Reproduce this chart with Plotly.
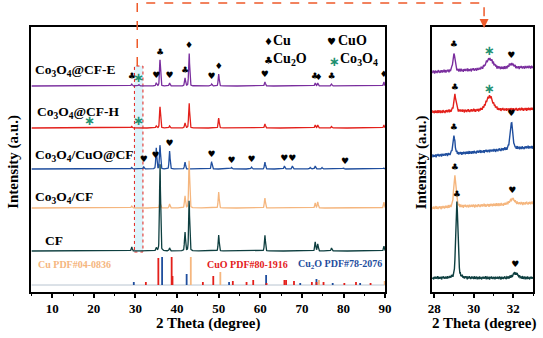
import numpy as np
import plotly.graph_objects as go

W, H = 543, 338
SERIF = "Liberation Serif"
SYM = "DejaVu Sans"

# ---------------- data: main panel peak tables (2-theta deg, intensity a.u.) ----------------
cfe_pos = [29.1, 30.8, 35.0, 35.9, 38.2, 41.9, 42.9, 48.3, 50.0, 61.1, 73.2, 73.8, 77.1, 89.7]
cfe_h   = [2, 1.5, 3, 26, 3, 8, 33, 2, 12, 4, 3, 3, 2, 4]
cfh_pos = [29.1, 35.0, 35.9, 38.2, 41.9, 42.9, 50.0, 61.1, 73.2, 73.8, 77.1, 89.7]
cfh_h   = [1.5, 2, 21, 2, 5, 25, 10, 4, 3, 3, 1.5, 3]
cuo_pos = [29.1, 32.0, 35.0, 35.9, 38.2, 41.9, 48.3, 53.1, 57.9, 61.1, 65.8, 67.7, 72.0, 73.2, 74.8, 80.0, 89.7]
cuo_h   = [1.5, 2, 21, 24, 18, 7, 7, 1.5, 2, 7, 3, 3, 1.5, 3, 1.5, 1, 1]
c3_pos  = [29.1, 35.9, 38.2, 41.9, 42.9, 50.0, 61.1, 73.2, 73.8, 89.7]
c3_h    = [2, 6, 4, 12, 48, 16, 10, 5, 6, 6]
cf_pos  = [29.1, 35.0, 35.9, 38.2, 41.9, 42.9, 50.0, 61.1, 73.2, 73.8, 77.1, 89.7]
cf_h    = [4, 3, 88, 3, 19, 51, 16, 16, 9, 7, 3, 5]

# reference stick patterns
cu_ref_pos  = [43.3, 50.4, 74.1, 89.9]
cu_ref_h    = [28, 13, 5, 4]
cuo_ref_pos = [32.5, 35.5, 38.7, 38.9, 46.2, 48.7, 53.4, 56.7, 58.3, 61.5, 65.8, 66.2, 68.1, 72.4, 73.5, 75.2, 80.2, 83.0, 86.5]
cuo_ref_h   = [3, 27, 28, 9, 3, 9, 4, 3, 5, 2, 5, 5, 4, 3, 3, 3, 2, 3, 2]
cu2o_ref_pos = [29.6, 36.4, 42.3, 52.5, 61.4, 69.6, 73.5, 77.4, 84.0]
cu2o_ref_h   = [3, 28, 11, 3, 10, 2, 6, 2, 2]

# phase markers above peaks (position, symbol)
cfe_marks = [(29.1, "♣"), (30.8, "*"), (35.0, "♥"), (35.9, "♣"), (38.2, "♥"), (41.9, "♣"), (42.9, "♦"),
             (48.3, "♥"), (50.0, "♦"), (61.1, "♥"), (73.1, "♣"), (74.0, "♦"), (77.1, "♣"), (89.7, "♦")]
cfh_marks = [(19.0, "*"), (30.8, "*")]
cuo_marks = [(32.0, "♥"), (34.8, "♥"), (38.2, "♥"), (48.3, "♥"), (53.1, "♥"), (57.9, "♥"),
             (65.8, "♥"), (67.7, "♥"), (80.4, "♥")]

# ---------------- data: zoomed panel (28-33 deg) ----------------
zpu_pos, zpu_h, zpu_w = [29.0, 30.8, 31.9], [18, 10, 4], [0.13, 0.45, 0.3]
zre_pos, zre_h, zre_w = [29.05, 30.8], [16, 14], [0.14, 0.4]
zbl_pos, zbl_h, zbl_w = [29.0, 31.9], [18, 27], [0.13, 0.15]
zor_pos, zor_h, zor_w = [29.05, 31.95], [31, 5], [0.14, 0.3]
zcf_pos, zcf_h, zcf_w = [29.15, 32.1], [75, 5], [0.13, 0.3]
zoom_marks = {
    "pu": [(29.0, "♣"), (30.8, "*"), (31.9, "♥")],
    "re": [(29.05, "♣"), (30.8, "*")],
    "bl": [(29.0, "♣"), (31.9, "♥")],
    "or": [(29.05, "♣"), (31.95, "♥")],
    "cf": [(29.15, "♣"), (32.1, "♥")],
}
noise = [0.6, -0.9, 1.2, -0.3, 0.8, -1.4, 0.2, 1.0, -0.7, 0.4, -1.1, 0.9, -0.2, 1.3, -0.8, 0.1, -1.2, 0.7,
         0.3, -0.6, 1.1, -1.0, 0.5, -0.4, 1.4, -0.9, 0.0, 0.8, -1.3, 0.6, -0.1, 1.0, -0.7, 0.9, -1.5, 0.4,
         0.2, -0.8, 1.2, -0.5, 0.7, -1.1, 0.3, 1.1, -0.6, -0.2, 0.9, -1.0, 0.5, 1.3, -0.9, 0.1, -0.4, 1.0,
         -1.2, 0.6, 0.8, -0.3, -1.0, 1.2, 0.2, -0.7, 0.4, -1.3, 0.9, 0.0, -0.5, 1.1, -0.8, 0.6, -0.2, 1.4,
         -1.1, 0.3, 0.7, -0.9, 0.5, -0.6, 1.0, -1.4, 0.2, 0.8, -0.3, 1.2, -0.7, 0.4, -1.0, 0.9, -0.1, 0.6,
         -1.2, 1.1, -0.4, 0.3, -0.8, 1.0, -0.5]

# ---------------- styling ----------------
C_PU, C_RE, C_BL, C_OR, C_CF = "#7A2E9E", "#E3201B", "#1F4E9E", "#F5B67E", "#0E3F40"
C_STAR = "#1E9070"
# vertical stacking offsets (display positions)
off_main = {"cfe": 206, "cfh": 164, "cuo": 123, "c3": 84, "cf": 41}
stick_base = 7
zoom_base = {"pu": (220, 225), "re": (180, 183), "bl": (136, 145), "or": (84, 89), "cf": (14, 14)}


def pv(x, pos, hts, fw, eta=0.3):
    y = np.zeros_like(x)
    fw = np.broadcast_to(np.asarray(fw, dtype=float), (len(pos),))
    for p, h, w in zip(pos, hts, fw):
        g = np.exp(-4 * np.log(2) * ((x - p) / w) ** 2)
        l = 1.0 / (1 + 4 * ((x - p) / w) ** 2)
        y += h * (eta * l + (1 - eta) * g)
    return y


fig = go.Figure()
x_main = np.arange(5.0, 90.01, 0.04)

main_series = [
    ("cfe", cfe_pos, cfe_h, C_PU),
    ("cfh", cfh_pos, cfh_h, C_RE),
    ("cuo", cuo_pos, cuo_h, C_BL),
    ("c3", c3_pos, c3_h, C_OR),
    ("cf", cf_pos, cf_h, C_CF),
]
curves = {}
for key, pos, hts, col in main_series:
    y = off_main[key] + pv(x_main, pos, hts, 0.28)
    curves[key] = (pos, hts)
    fig.add_trace(go.Scatter(x=x_main, y=y, mode="lines", line=dict(color=col, width=1.3),
                             xaxis="x", yaxis="y", hoverinfo="skip", showlegend=False))

# stick baseline
fig.add_trace(go.Scatter(x=[5, 90], y=[stick_base, stick_base], mode="lines",
                         line=dict(color="#B8C4D0", width=1), xaxis="x", yaxis="y", showlegend=False))
for pos, hts, col in [(cu2o_ref_pos, cu2o_ref_h, C_BL), (cuo_ref_pos, cuo_ref_h, C_RE), (cu_ref_pos, cu_ref_h, C_OR)]:
    xs, ys = [], []
    for p, h in zip(pos, hts):
        xs += [p, p, None]
        ys += [stick_base, stick_base + h, None]
    fig.add_trace(go.Scatter(x=xs, y=ys, mode="lines", line=dict(color=col, width=1.8),
                             xaxis="x", yaxis="y", showlegend=False))


def add_marks(marks, key, xa, ya, base_fn, gap=7):
    for p, s in marks:
        yv = base_fn(p) + gap
        if s == "*":
            fig.add_trace(go.Scatter(x=[p], y=[yv - 1], mode="text", text=["<b>∗</b>"],
                                     textfont=dict(family=SYM, size=13, color=C_STAR),
                                     xaxis=xa, yaxis=ya, showlegend=False, cliponaxis=False))
        else:
            fig.add_trace(go.Scatter(x=[p], y=[yv], mode="text", text=[s],
                                     textfont=dict(family=SYM, size=9, color="black"),
                                     xaxis=xa, yaxis=ya, showlegend=False, cliponaxis=False))


def main_base(key):
    pos, hts = curves[key]
    return lambda p: off_main[key] + float(pv(np.array([p]), pos, hts, 0.28)[0])


add_marks(cfe_marks, "cfe", "x", "y", main_base("cfe"))
add_marks(cfh_marks, "cfh", "x", "y", lambda p: off_main["cfh"])
add_marks(cuo_marks, "cuo", "x", "y", main_base("cuo"))

# zoom panel
x_zoom = np.arange(27.9, 33.001, 0.025)
nz = np.resize(np.array(noise), len(x_zoom) + 200)
zoom_series = [
    ("pu", zpu_pos, zpu_h, zpu_w, C_PU, 0),
    ("re", zre_pos, zre_h, zre_w, C_RE, 37),
    ("bl", zbl_pos, zbl_h, zbl_w, C_BL, 71),
    ("or", zor_pos, zor_h, zor_w, C_OR, 113),
    ("cf", zcf_pos, zcf_h, zcf_w, C_CF, 157),
]
for key, pos, hts, ws, col, sh in zoom_series:
    b0, b1 = zoom_base[key]
    base = b0 + (b1 - b0) * (x_zoom - x_zoom[0]) / (x_zoom[-1] - x_zoom[0])
    y = base + pv(x_zoom, pos, hts, ws, eta=0.4) + nz[sh:sh + len(x_zoom)] * 1.2
    fig.add_trace(go.Scatter(x=x_zoom, y=y, mode="lines", line=dict(color=col, width=1.4),
                             xaxis="x2", yaxis="y2", hoverinfo="skip", showlegend=False))

    def zb(p, pos=pos, hts=hts, ws=ws, b0=b0, b1=b1):
        return b0 + (b1 - b0) * (p - 27.9) / 5.1 + float(pv(np.array([p]), pos, hts, ws, eta=0.4)[0])
    add_marks(zoom_marks[key], key, "x2", "y2", zb, gap=8)


def ann(text, x, y, size, color="black", xanchor="left", family=SERIF, angle=0):
    return dict(text=text, x=x / W, y=1 - y / H, xref="paper", yref="paper", showarrow=False,
                xanchor=xanchor, yanchor="middle", textangle=angle,
                font=dict(size=size, color=color, family=family))


annotations = [
    ann("<b>Co<sub>3</sub>O<sub>4</sub>@CF-E</b>", 30, 71, 13.5),
    ann("<b>Co<sub>3</sub>O<sub>4</sub>@CF-H</b>", 32, 112, 13.5),
    ann("<b>Co<sub>3</sub>O<sub>4</sub>/CuO@CF</b>", 30, 155, 13.5),
    ann("<b>Co<sub>3</sub>O<sub>4</sub>/CF</b>", 30, 197, 13.5),
    ann("<b>CF</b>", 40, 240, 13.5),
    ann("♦", 263, 42, 10, family=SYM),
    ann("<b>Cu</b>", 273, 41, 14),
    ann("♥", 328, 42, 10, family=SYM),
    ann("<b>CuO</b>", 339, 41, 14),
    ann("♣", 263, 60, 10, family=SYM),
    ann("<b>Cu<sub>2</sub>O</b>", 273, 59, 14),
    ann("<b>∗</b>", 330, 61, 13, color=C_STAR, family=SYM),
    ann("<b>Co<sub>3</sub>O<sub>4</sub></b>", 341, 59, 14),
    ann("<b>Cu PDF#04-0836</b>", 33, 264, 10, color=C_OR),
    ann("<b>CuO PDF#80-1916</b>", 205, 264, 10, color=C_RE),
    ann("<b>Cu<sub>2</sub>O PDF#78-2076</b>", 298, 264, 10, color=C_BL),
    ann("<b>2 Theta (degree)</b>", 208, 323, 15, xanchor="center"),
    ann("<b>2 Theta (degree)</b>", 490, 323, 15, xanchor="center"),
    ann("<b>Intensity (a.u.)</b>", 9, 162, 15, xanchor="center", angle=-90),
    ann("<b>Intensity (a.u.)</b>", 426, 162, 15, xanchor="center", angle=-90),
]
# arrow head
annotations.append(dict(x=490 / W, y=1 - 28 / H, xref="paper", yref="paper", ax=0, ay=-10,
                        showarrow=True, arrowhead=2, arrowsize=1.2, arrowwidth=1.5,
                        arrowcolor="#EE5A2A", text=""))

shapes = [
    dict(type="rect", xref="x", yref="y", x0=29.75, x1=31.8, y0=40, y1=226,
         fillcolor="#DDF4FB", line=dict(color="#E3201B", width=1, dash="dot"), layer="below"),
    dict(type="path", xref="paper", yref="paper",
         path=f"M {136 / W},{1 - 66 / H} L {136 / W},{1 - 3 / H} L {490 / W},{1 - 3 / H} L {490 / W},{1 - 18 / H}",
         line=dict(color="#EE5A2A", width=1.5, dash="dash")),
]

axis_common = dict(showline=True, mirror=True, linecolor="black", linewidth=1.6,
                   showgrid=False, zeroline=False)
fig.update_layout(
    width=W, height=H, margin=dict(l=0, r=0, t=0, b=0),
    paper_bgcolor="white", plot_bgcolor="white",
    xaxis=dict(domain=[28 / W, 389 / W], range=[5, 90], tickvals=[10, 20, 30, 40, 50, 60, 70, 80, 90],
               ticks="outside", ticklen=4, tickwidth=1.5, tickcolor="black",
               minor=dict(tickvals=[5, 15, 25, 35, 45, 55, 65, 75, 85], ticks="outside", ticklen=2,
                          tickwidth=1.2, tickcolor="black"),
               tickfont=dict(family=SERIF, size=13, color="black", weight="bold"), anchor="y",
               **axis_common),
    yaxis=dict(domain=[46 / H, 311 / H], range=[0, 265], showticklabels=False, ticks="", anchor="x",
               **axis_common),
    xaxis2=dict(domain=[437 / W, 540 / W], range=[27.9, 33], tickvals=[28, 30, 32],
                ticks="outside", ticklen=4, tickwidth=1.5, tickcolor="black",
                minor=dict(tickvals=[29, 31, 33], ticks="outside", ticklen=2, tickwidth=1.2, tickcolor="black"),
                tickfont=dict(family=SERIF, size=13, color="black", weight="bold"), anchor="y2",
                **axis_common),
    yaxis2=dict(domain=[46 / H, 311 / H], range=[0, 265], showticklabels=False, ticks="", anchor="x2",
                **axis_common),
    annotations=annotations, shapes=shapes, showlegend=False,
)
fig.write_html("out.html")
